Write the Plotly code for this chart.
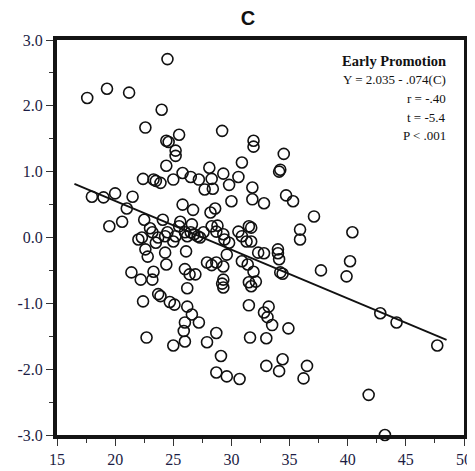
import plotly.graph_objects as go

# Data
c_values = [24.5, 17.6, 19.3, 21.2, 24.0, 22.6, 24.4, 24.6, 25.5, 25.2,
            25.2, 29.2, 31.9, 31.9, 24.4, 30.9, 34.5, 34.2, 34.1, 22.4,
            23.3, 23.5, 23.9, 25.0, 25.8, 26.5, 27.2, 28.1, 28.3, 27.7,
            28.4, 29.3, 29.8, 30.6, 31.8, 31.8, 32.8, 34.7, 35.3, 18.0,
            19.0, 20.0, 21.5, 21.0, 19.5, 20.6, 22.5, 24.1, 25.8, 26.7,
            28.2, 28.6, 30.0, 22.0, 22.3, 23.0, 23.2, 23.7, 23.5, 24.3,
            24.5, 25.0, 25.2, 25.5, 25.6, 26.0, 26.2, 26.5, 26.8, 27.1,
            27.3, 27.6, 26.6, 22.6, 22.8, 24.3, 24.4, 26.1, 21.4, 22.2,
            23.3, 23.2, 26.0, 26.4, 26.9, 27.9, 28.3, 28.7, 29.3, 26.2,
            22.4, 23.7, 23.9, 24.7, 25.1, 26.2, 26.6, 27.2, 26.0, 25.9,
            22.7, 28.7, 25.0, 26.0, 27.9, 29.1, 28.7, 29.6, 30.7, 28.3,
            28.7, 28.8, 29.3, 29.4, 29.8, 30.6, 30.9, 31.3, 31.5, 31.7,
            31.7, 29.6, 30.9, 31.4, 31.9, 32.1, 31.7, 31.5, 29.3, 29.3,
            29.2, 32.3, 32.8, 34.0, 34.0, 34.1, 34.2, 34.4, 35.9, 35.9,
            37.1, 40.4, 40.2, 39.9, 37.7, 42.8, 44.2, 47.7, 41.8, 43.2,
            31.5, 33.2, 32.8, 33.1, 33.5, 34.9, 33.0, 31.6, 33.0, 34.1,
            34.4, 36.5, 36.2]
y_values = [2.71, 2.12, 2.26, 2.20, 1.94, 1.67, 1.47, 1.45, 1.56, 1.32,
            1.24, 1.62, 1.47, 1.38, 1.09, 1.14, 1.27, 1.03, 1.00, 0.89,
            0.88, 0.86, 0.83, 0.88, 0.98, 0.92, 0.88, 1.06, 0.89, 0.73,
            0.74, 0.97, 0.80, 0.92, 0.76, 0.58, 0.52, 0.64, 0.55, 0.62,
            0.61, 0.67, 0.62, 0.44, 0.17, 0.24, 0.27, 0.27, 0.50, 0.42,
            0.38, 0.44, 0.55, -0.03, 0.00, 0.14, 0.08, 0.00, -0.08, 0.02,
            0.08, -0.06, 0.02, 0.17, 0.24, 0.08, 0.02, 0.08, 0.05, 0.02,
            0.00, 0.08, 0.20, -0.18, -0.29, -0.23, -0.41, -0.21, -0.53, -0.64,
            -0.52, -0.64, -0.48, -0.56, -0.56, -0.38, -0.42, -0.38, -0.44, -0.77,
            -0.97, -0.86, -0.89, -0.98, -1.02, -1.05, -1.17, -1.29, -1.29, -1.42,
            -1.52, -1.45, -1.64, -1.58, -1.59, -1.80, -2.05, -2.11, -2.15, 0.17,
            0.09, 0.18, 0.05, -0.03, -0.08, 0.09, 0.02, -0.06, 0.17, 0.15,
            -0.06, -0.26, -0.36, -0.41, -0.52, -0.67, -0.74, -0.68, -0.64, -0.76,
            -0.70, -0.23, -0.24, -0.18, -0.24, -0.33, -0.53, -0.55, 0.12, -0.03,
            0.32, 0.08, -0.36, -0.59, -0.50, -1.15, -1.29, -1.64, -2.39, -3.00,
            -1.03, -1.05, -1.14, -1.21, -1.33, -1.38, -1.53, -1.52, -1.95, -2.03,
            -1.85, -1.95, -2.14]

intercept = 2.035
slope = -0.074
fit_x = [16.5, 48.5]
fit_y = [intercept + slope * v for v in fit_x]

x_ticks = [15, 20, 25, 30, 35, 40, 45, 50]
x_tick_labels = ["15", "20", "25", "30", "35", "40", "45", "50"]
y_ticks = [3, 2, 1, 0, -1, -2, -3]
y_tick_labels = ["3.0", "2.0", "1.0", "0.0", "-1.0", "-2.0", "-3.0"]

title_text = "C"
stats_lines = ["Y = 2.035 - .074(C)", "r = -.40", "t = -5.4", "P < .001"]
group_label = "Early Promotion"

serif = "Liberation Serif, Times New Roman, serif"
tick_color = "#1c1c44"

fig = go.Figure()
fig.add_trace(go.Scatter(
    x=c_values, y=y_values, mode="markers",
    marker=dict(symbol="circle-open", size=11, color="#111111",
                line=dict(width=1.6, color="#111111")),
    cliponaxis=False, showlegend=False))
fig.add_trace(go.Scatter(
    x=fit_x, y=fit_y, mode="lines",
    line=dict(color="#111111", width=1.8), showlegend=False))

axis_common = dict(
    showline=True, linewidth=4, linecolor="#141414", mirror=True,
    showgrid=False, zeroline=False,
    ticks="outside", ticklen=7, tickwidth=1, tickcolor="#333333",
    tickfont=dict(family=serif, size=16, color=tick_color),
    ticklabeloverflow="allow",
)
fig.update_xaxes(range=[15, 50], tickvals=x_ticks, ticktext=x_tick_labels,
                 minor=dict(ticks="outside", ticklen=4, dtick=2.5, tickcolor="#333333"),
                 **axis_common)
fig.update_yaxes(range=[-3, 3], tickvals=y_ticks, ticktext=y_tick_labels,
                 minor=dict(ticks="outside", ticklen=4, dtick=0.5, tickcolor="#333333"),
                 **axis_common)

annotations = [dict(
    x=0.96, y=0.946, xref="paper", yref="paper", xanchor="right", yanchor="middle",
    text="<b>" + group_label + "</b>", showarrow=False,
    font=dict(family=serif, size=14.5, color="#111111"))]
stat_y = [0.899, 0.851, 0.803, 0.758]
for txt, yy in zip(stats_lines, stat_y):
    annotations.append(dict(
        x=0.96, y=yy, xref="paper", yref="paper", xanchor="right", yanchor="middle",
        text=txt, showarrow=False,
        font=dict(family=serif, size=13, color="#111111")))

# The page body adds an 8px offset, so the figure is sized to fit the window.
fig.update_layout(
    width=467, height=463,
    margin=dict(l=49, r=3, t=32, b=35),
    paper_bgcolor="white", plot_bgcolor="white",
    title=dict(text="<b>" + title_text + "</b>", x=0.514, xref="container",
               xanchor="center", y=0.978, yanchor="middle",
               font=dict(family="Liberation Sans, Arial, sans-serif", size=20, color="#111111")),
    annotations=annotations,
)

fig.write_html("out.html")
